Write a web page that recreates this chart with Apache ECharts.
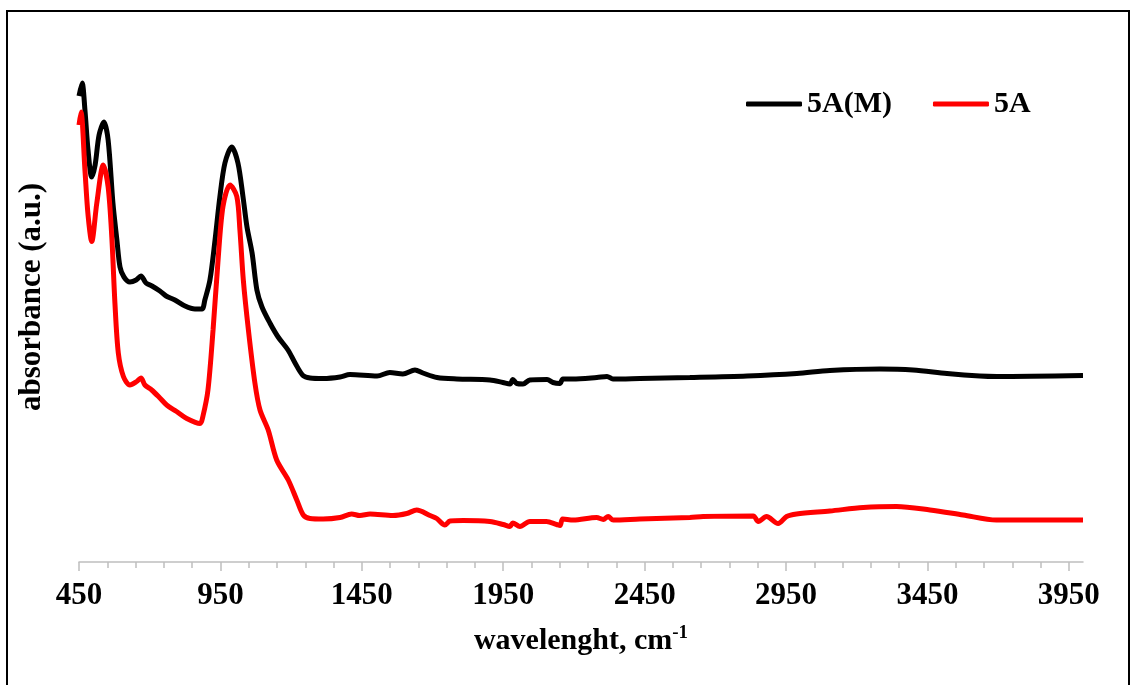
<!DOCTYPE html>
<html>
<head>
<meta charset="utf-8">
<script src="https://cdn.jsdelivr.net/npm/echarts@6/dist/echarts.min.js"></script>
<style>
    html, body { margin: 0; padding: 0; background: #fff; }
    #chart { width: 1132px; height: 685px; }
</style>
</head>
<body>
<div id="chart"></div>
<script>
// wavenumber (cm-1) and absorbance pairs
var wave5AM = [450, 461, 471, 482, 495, 507, 521, 538, 553, 570, 584, 595, 609, 630, 652, 669, 687, 708, 736, 758, 789, 825, 860, 885, 895, 913, 931, 948, 966, 990, 1012, 1030, 1044, 1062, 1079, 1097, 1125, 1154, 1189, 1214, 1242, 1267, 1313, 1373, 1408, 1504, 1549, 1595, 1638, 1666, 1716, 1786, 1903, 1949, 1974, 1984, 1998, 2020, 2044, 2105, 2126, 2150, 2161, 2196, 2281, 2317, 2338, 2433, 2610, 2812, 2988, 3105, 3282, 3399, 3519, 3635, 3695, 4000];
var abs5AM = [0.932, 0.958, 0.904, 0.824, 0.770, 0.794, 0.854, 0.880, 0.844, 0.718, 0.644, 0.590, 0.570, 0.560, 0.564, 0.572, 0.558, 0.552, 0.542, 0.532, 0.524, 0.512, 0.506, 0.506, 0.524, 0.564, 0.644, 0.730, 0.798, 0.830, 0.798, 0.730, 0.670, 0.618, 0.544, 0.510, 0.478, 0.450, 0.424, 0.398, 0.373, 0.368, 0.367, 0.370, 0.375, 0.372, 0.379, 0.376, 0.384, 0.378, 0.369, 0.366, 0.364, 0.359, 0.356, 0.365, 0.357, 0.356, 0.364, 0.365, 0.359, 0.357, 0.366, 0.366, 0.369, 0.371, 0.366, 0.367, 0.369, 0.372, 0.377, 0.383, 0.386, 0.384, 0.377, 0.372, 0.371, 0.373];

var wave5A = [450, 457, 471, 482, 495, 513, 536, 553, 566, 577, 589, 607, 630, 654, 669, 683, 707, 736, 760, 795, 831, 878, 888, 906, 924, 941, 959, 984, 1008, 1019, 1031, 1049, 1072, 1090, 1119, 1149, 1190, 1220, 1243, 1267, 1313, 1373, 1414, 1443, 1479, 1560, 1609, 1644, 1691, 1715, 1744, 1762, 1809, 1903, 1950, 1974, 1984, 2009, 2044, 2103, 2139, 2151, 2160, 2198, 2280, 2304, 2321, 2339, 2433, 2610, 2657, 2834, 2852, 2881, 2922, 2952, 2987, 3105, 3223, 3341, 3459, 3576, 3694, 4000];
var abs5A = [0.874, 0.900, 0.784, 0.694, 0.641, 0.718, 0.794, 0.750, 0.650, 0.518, 0.418, 0.371, 0.354, 0.361, 0.368, 0.354, 0.344, 0.328, 0.314, 0.301, 0.287, 0.277, 0.291, 0.344, 0.464, 0.598, 0.711, 0.754, 0.731, 0.664, 0.564, 0.464, 0.358, 0.304, 0.264, 0.204, 0.164, 0.124, 0.094, 0.087, 0.086, 0.089, 0.096, 0.093, 0.096, 0.093, 0.097, 0.104, 0.093, 0.087, 0.074, 0.082, 0.083, 0.081, 0.075, 0.071, 0.078, 0.071, 0.081, 0.081, 0.075, 0.073, 0.086, 0.084, 0.089, 0.085, 0.091, 0.084, 0.086, 0.089, 0.091, 0.092, 0.081, 0.091, 0.077, 0.091, 0.096, 0.102, 0.109, 0.111, 0.104, 0.094, 0.084, 0.084];

var majorTicks = [450, 950, 1450, 1950, 2450, 2950, 3450, 3950];
var minorTicks = [];
for (var t = 450; t <= 3950; t += 100) {
    minorTicks.push(t);
}

function pairs(xs, ys) {
    return xs.map(function (x, i) { return [x, ys[i]]; });
}

var font = "'Liberation Serif', 'Times New Roman', serif";

var chart = echarts.init(document.getElementById("chart"));
chart.setOption({
    animation: false,
    backgroundColor: "#fff",
    graphic: [{
        type: "rect",
        shape: { x: 7, y: 11, width: 1122, height: 680 },
        style: { fill: "none", stroke: "#000", lineWidth: 2 },
        silent: true
    }],
    grid: { left: 79, right: 49, top: 32, bottom: 123 },
    legend: {
        left: 741,
        top: 84,
        icon: "roundRect",
        itemWidth: 56,
        itemHeight: 5,
        itemGap: 41,
        textStyle: { fontFamily: font, fontWeight: "bold", fontSize: 30, color: "#000" },
        data: ["5A(M)", "5A"]
    },
    xAxis: [{
        type: "value",
        min: 450,
        max: 4000,
        name: "{a|wavelenght, cm}{b|-1}",
        nameLocation: "middle",
        nameGap: 62,
        nameTextStyle: {
            rich: {
                a: { fontFamily: font, fontWeight: "bold", fontSize: 30, color: "#000", lineHeight: 34 },
                b: { fontFamily: font, fontWeight: "bold", fontSize: 19, color: "#000", lineHeight: 20, verticalAlign: "top" }
            }
        },
        splitLine: { show: false },
        axisLine: { lineStyle: { color: "#bfbfbf", width: 1.5 } },
        axisTick: { customValues: majorTicks, length: 9, lineStyle: { color: "#bfbfbf", width: 1.5 } },
        axisLabel: {
            customValues: majorTicks,
            margin: 18,
            fontFamily: font,
            fontWeight: "bold",
            fontSize: 31,
            color: "#000",
            formatter: function (v) { return String(v); }
        }
    }, {
        type: "value",
        min: 450,
        max: 4000,
        position: "bottom",
        splitLine: { show: false },
        axisLine: { show: false },
        axisLabel: { show: false },
        axisTick: { customValues: minorTicks, length: 6, lineStyle: { color: "#bfbfbf", width: 1.5 } }
    }],
    yAxis: {
        type: "value",
        min: 0,
        max: 1.06,
        name: "absorbance (a.u.)",
        nameLocation: "middle",
        nameGap: 32,
        nameTextStyle: { fontFamily: font, fontWeight: "bold", fontSize: 31, color: "#000" },
        axisLine: { show: false },
        axisTick: { show: false },
        axisLabel: { show: false },
        splitLine: { show: false }
    },
    series: [{
        name: "5A(M)",
        type: "line",
        xAxisIndex: 0,
        data: pairs(wave5AM, abs5AM),
        showSymbol: false,
        smooth: 0.3,
        lineStyle: { color: "#000", width: 5 },
        itemStyle: { color: "#000" }
    }, {
        name: "5A",
        type: "line",
        xAxisIndex: 0,
        data: pairs(wave5A, abs5A),
        showSymbol: false,
        smooth: 0.3,
        lineStyle: { color: "#ff0000", width: 5 },
        itemStyle: { color: "#ff0000" }
    }]
});
</script>
</body>
</html>
